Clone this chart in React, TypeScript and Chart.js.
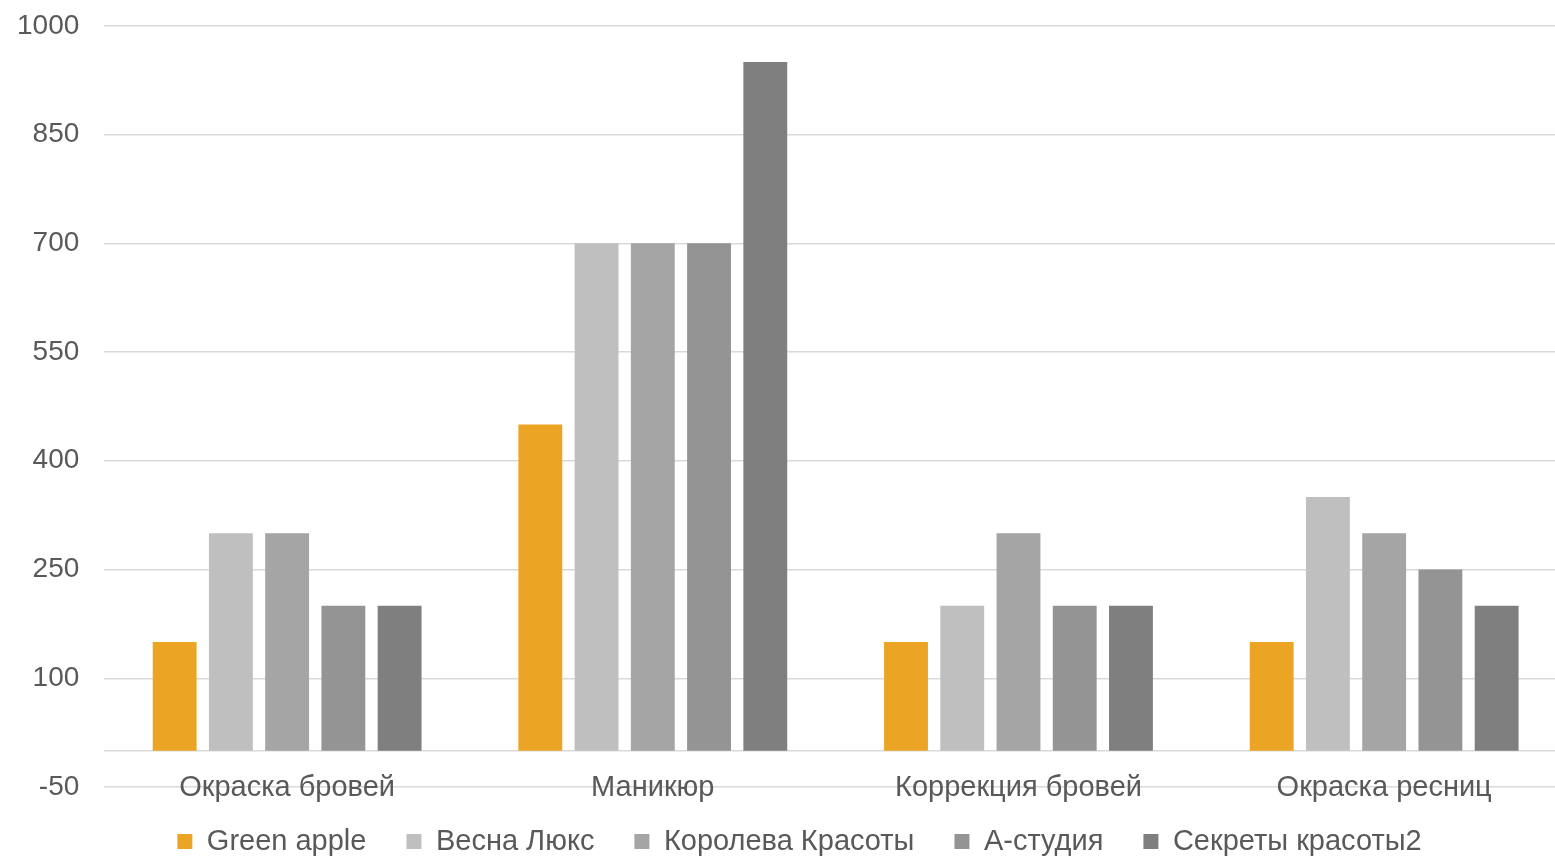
import React, { useEffect, useRef } from "react";
import { Chart, registerables } from "chart.js";

Chart.register(...registerables);

const categories = ["Окраска бровей", "Маникюр", "Коррекция бровей", "Окраска ресниц"];
const seriesNames = ["Green apple", "Весна Люкс", "Королева Красоты", "А-студия", "Секреты красоты2"];
const greenApple = [150, 450, 150, 150];
const vesnaLux = [300, 700, 200, 350];
const korolevaKrasoty = [300, 700, 300, 300];
const aStudio = [200, 700, 200, 250];
const sekretyKrasoty2 = [200, 950, 200, 200];
const seriesColors = ["#EBA424", "#BFBFBF", "#A5A5A5", "#949494", "#7F7F7F"];
const yMin = -50;
const yMax = 1000;
const yStep = 150;

const FONT = "'Liberation Sans', Arial, sans-serif";
const TEXT = "#595959";

const legendShift = {
  id: "legendShift",
  afterLayout(chart: any) {
    if (chart.legend) {
      chart.legend.left += 20;
      chart.legend.right += 20;
    }
  },
};

export default function App() {
  const ref = useRef<HTMLCanvasElement | null>(null);
  useEffect(() => {
    if (!ref.current) return;
    const values = [greenApple, vesnaLux, korolevaKrasoty, aStudio, sekretyKrasoty2];
    const chart = new Chart(ref.current, {
      type: "bar",
      data: {
        labels: categories,
        datasets: values.map((d, i) => ({
          label: seriesNames[i],
          data: d,
          backgroundColor: seriesColors[i],
          borderWidth: 0,
          categoryPercentage: 0.769,
          barPercentage: 0.78,
        })),
      },
      plugins: [legendShift],
      options: {
        responsive: false,
        animation: false,
        layout: { padding: { left: 16, top: 9, right: 0, bottom: 0 } },
        plugins: {
          tooltip: { enabled: false },
          legend: {
            position: "bottom",
            labels: {
              font: { family: FONT, size: 29 },
              color: TEXT,
              boxWidth: 15,
              boxHeight: 15,
              padding: 40,
            },
          },
        },
        scales: {
          x: {
            position: { y: 0 } as any,
            grid: { display: false, drawTicks: false },
            border: { display: true, color: "#D9D9D9", width: 1.5 },
            ticks: {
              font: { family: FONT, size: 29 },
              color: TEXT,
              padding: 20,
              maxRotation: 0,
            },
          },
          y: {
            min: yMin,
            max: yMax,
            grid: { color: "#D9D9D9", lineWidth: 1.5, drawTicks: false },
            border: { display: false },
            ticks: {
              stepSize: yStep,
              font: { family: FONT, size: 28 },
              color: TEXT,
              padding: 25,
              callback: (v: any) => String(v),
            },
          },
        },
      },
    });
    return () => chart.destroy();
  }, []);
  return (
    <div
      style={{
        position: "fixed",
        left: 0,
        top: 0,
        width: 1555,
        height: 859,
        overflow: "hidden",
        background: "#fff",
      }}
    >
      <canvas
        ref={ref}
        width={1591}
        height={882}
        style={{ display: "block", marginLeft: -24, marginTop: -16 }}
      />
    </div>
  );
}
